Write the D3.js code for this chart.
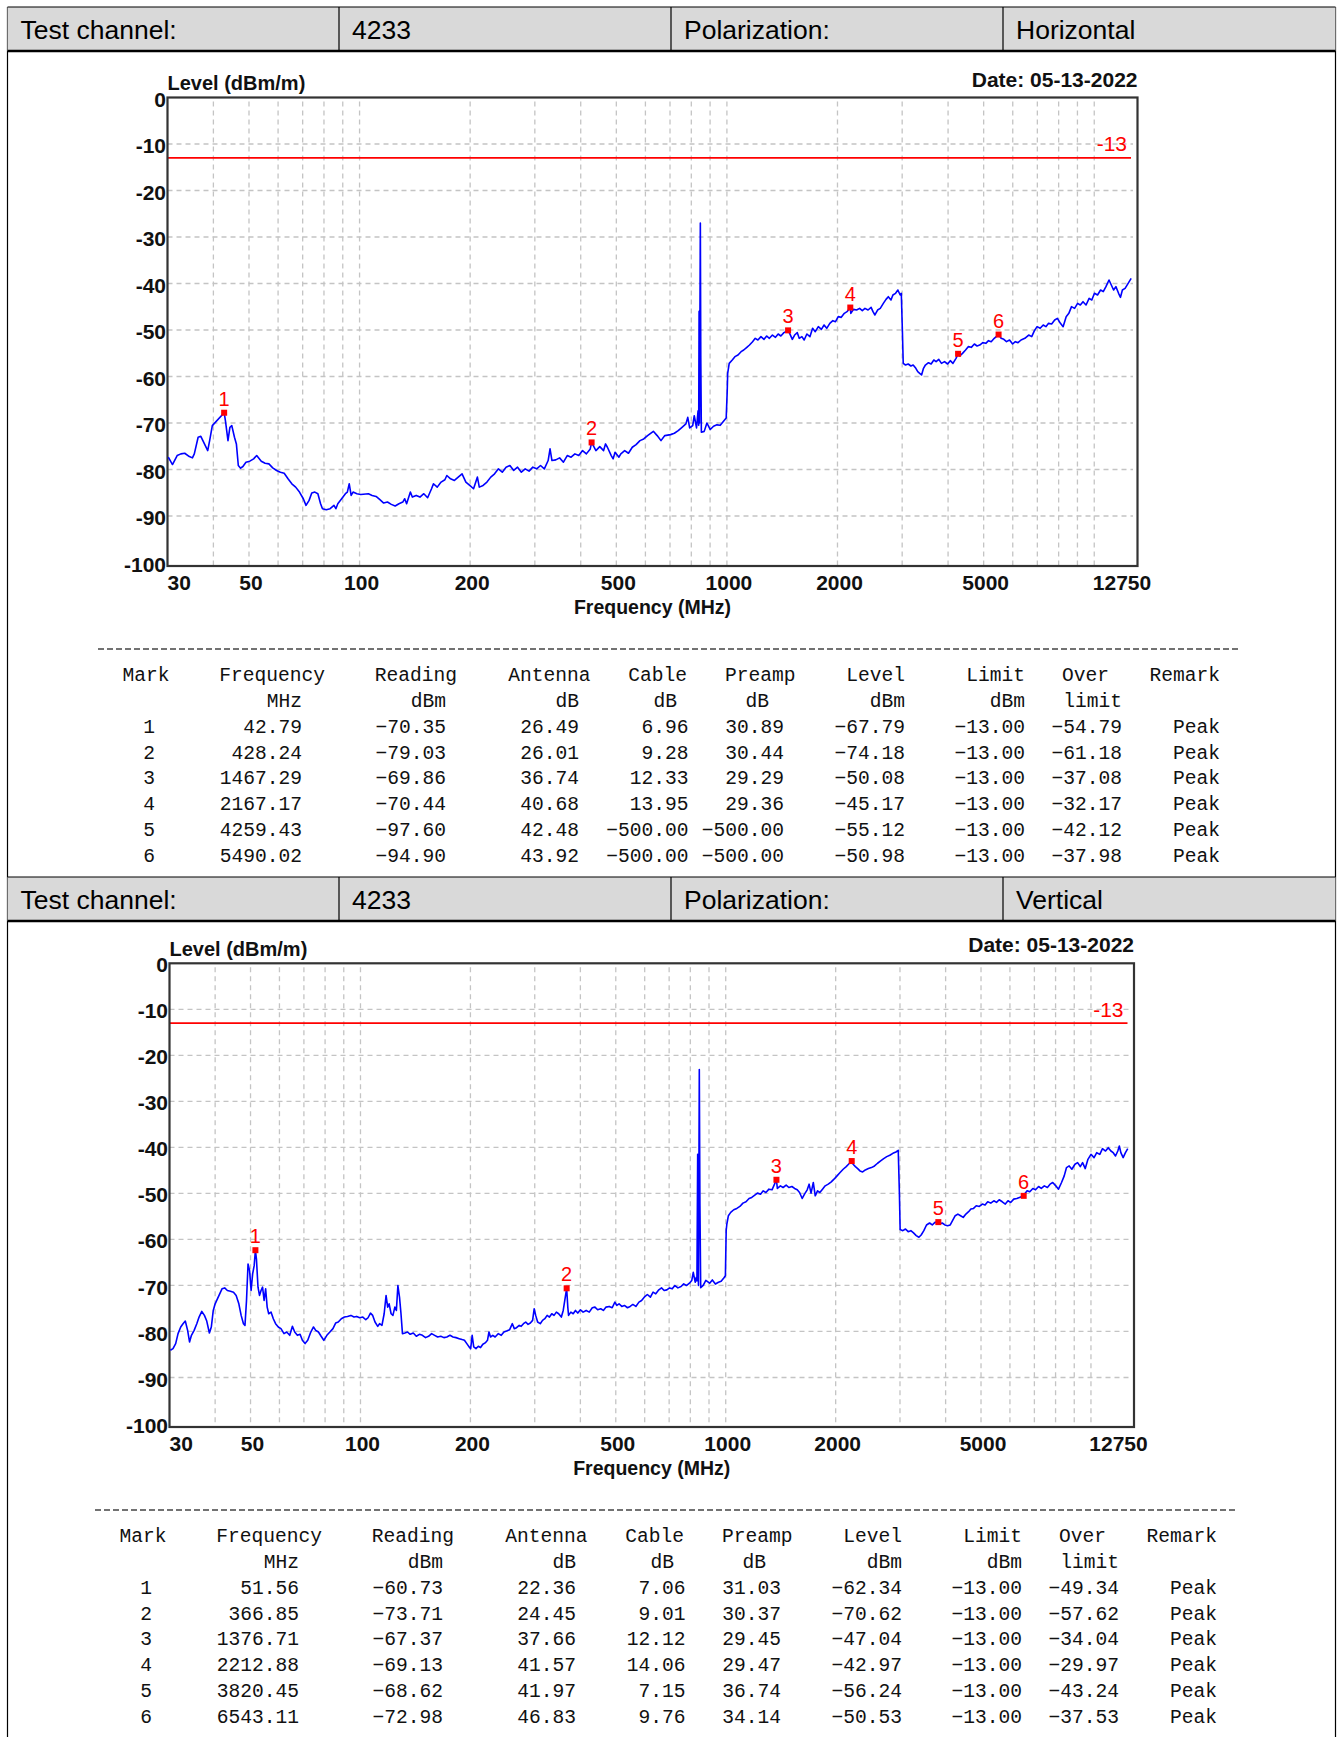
<!DOCTYPE html>
<html>
<head>
<meta charset="utf-8">
<script src="https://cdn.jsdelivr.net/npm/d3@7"></script>
<style>
  body { margin: 0; background: #fff; }
  svg text { font-family: "Liberation Sans", Arial, sans-serif; }
  svg text.mono { font-family: "Liberation Mono", "Courier New", monospace; }
</style>
</head>
<body>
<svg id="page" width="1340" height="1737"></svg>
<script>
// ---- data ----
const testChannel = "4233";
const testDate = "05-13-2022";
const polarizations = ["Horizontal", "Vertical"];
const freqTickValues = [30, 50, 100, 200, 500, 1000, 2000, 5000, 12750];
const freqGridValues = [40, 50, 60, 70, 80, 90, 100, 200, 300, 400, 500, 600, 700, 800, 900,
    1000, 2000, 3000, 4000, 5000, 6000, 7000, 8000, 9000, 10000];
const levelTickValues = [0, -10, -20, -30, -40, -50, -60, -70, -80, -90, -100];
const limitLevel = -13;

const tableHeader1 = ["Mark", "Frequency", "Reading", "Antenna", "Cable", "Preamp", "Level", "Limit", "Over", "Remark"];
const tableHeader2 = ["", "MHz", "dBm", "dB", "dB", "dB", "dBm", "dBm", "limit", ""];

// Horizontal polarization, marker table
const hMark = [1, 2, 3, 4, 5, 6];
const hFrequency = [42.79, 428.24, 1467.29, 2167.17, 4259.43, 5490.02];
const hReading = [-70.35, -79.03, -69.86, -70.44, -97.60, -94.90];
const hAntenna = [26.49, 26.01, 36.74, 40.68, 42.48, 43.92];
const hCable = [6.96, 9.28, 12.33, 13.95, -500.00, -500.00];
const hPreamp = [30.89, 30.44, 29.29, 29.36, -500.00, -500.00];
const hLevel = [-67.79, -74.18, -50.08, -45.17, -55.12, -50.98];
const hLimit = [-13.00, -13.00, -13.00, -13.00, -13.00, -13.00];
const hOver = [-54.79, -61.18, -37.08, -32.17, -42.12, -37.98];
const hRemark = ["Peak", "Peak", "Peak", "Peak", "Peak", "Peak"];

// Vertical polarization, marker table
const vMark = [1, 2, 3, 4, 5, 6];
const vFrequency = [51.56, 366.85, 1376.71, 2212.88, 3820.45, 6543.11];
const vReading = [-60.73, -73.71, -67.37, -69.13, -68.62, -72.98];
const vAntenna = [22.36, 24.45, 37.66, 41.57, 41.97, 46.83];
const vCable = [7.06, 9.01, 12.12, 14.06, 7.15, 9.76];
const vPreamp = [31.03, 30.37, 29.45, 29.47, 36.74, 34.14];
const vLevel = [-62.34, -70.62, -47.04, -42.97, -56.24, -50.53];
const vLimit = [-13.00, -13.00, -13.00, -13.00, -13.00, -13.00];
const vOver = [-49.34, -57.62, -34.04, -29.97, -43.24, -37.53];
const vRemark = ["Peak", "Peak", "Peak", "Peak", "Peak", "Peak"];

// Horizontal sweep: [MHz, dBm/m]
const hTrace = [
  [30.15,-77.36],[30.95,-78.93],[31.87,-77.0],[32.63,-76.64],[33.42,-76.5],[34.40,-77.21],[35.07,-77.5],
  [35.49,-76.64],[36.35,-73.07],[36.97,-72.86],[38.60,-75.93],[39.07,-73.79],[39.73,-70.57],[42.79,-67.79],
  [43.13,-69.5],[43.83,-73.79],[44.36,-70.93],[44.89,-70.57],[45.65,-73.07],[46.20,-74.5],[46.76,-79.14],
  [47.44,-79.71],[48.13,-79.36],[49.06,-78.43],[50.25,-78.21],[51.47,-77.71],[52.47,-77.0],[54.00,-78.21],
  [55.31,-78.64],[56.65,-78.79],[58.02,-79.64],[59.43,-80.21],[60.88,-80.57],[62.34,-80.79],[63.86,-82.0],
  [65.40,-83.07],[66.99,-83.79],[68.62,-84.86],[70.28,-86.29],[71.48,-87.71],[72.88,-86.64],[74.10,-85.07],
  [75.55,-84.86],[77.00,-85.21],[78.32,-87.36],[79.25,-88.43],[81.17,-88.64],[83.15,-88.43],[85.17,-87.71],
  [86.20,-88.43],[87.24,-87.36],[89.37,-86.29],[91.51,-85.21],[92.62,-84.86],[93.73,-83.07],[94.86,-85.57],
  [96.00,-84.86],[98.33,-85.21],[100.7,-85.36],[105.7,-85.21],[108.2,-85.57],[110.9,-85.79],[113.6,-86.5],
  [116.3,-87.21],[119.1,-87.0],[122.0,-87.5],[125.0,-87.86],[128.0,-87.36],[131.1,-87.0],[132.7,-86.29],
  [134.3,-87.36],[137.5,-84.86],[139.2,-85.93],[142.6,-85.57],[146.0,-85.93],[149.6,-85.21],[153.2,-86.07],
  [157.0,-84.14],[158.9,-83.07],[162.7,-83.79],[166.7,-82.71],[170.7,-82.21],[172.8,-81.29],[176.9,-82.0],
  [181.2,-82.36],[185.6,-81.64],[190.1,-80.93],[194.7,-82.71],[199.5,-83.43],[204.3,-84.14],[209.3,-81.64],
  [211.8,-83.79],[216.9,-83.43],[222.2,-82.71],[227.6,-81.64],[233.1,-80.93],[238.8,-79.86],[244.6,-80.57],
  [250.5,-79.5],[256.6,-79.14],[262.8,-80.21],[269.2,-79.5],[275.7,-80.57],[282.4,-79.86],[289.3,-80.36],
  [296.3,-79.5],[303.5,-79.86],[310.9,-79.14],[318.4,-79.86],[326.1,-78.07],[330.0,-75.57],[334.0,-78.07],
  [342.1,-77.93],[350.4,-77.5],[358.9,-78.43],[367.6,-77.0],[376.5,-77.36],[385.7,-76.64],[395.1,-77.0],
  [404.6,-75.93],[414.4,-76.64],[424.6,-75.57],[428.24,-74.18],[440.0,-75.93],[450.7,-75.07],[461.6,-75.93],
  [467.2,-74.5],[472.8,-75.21],[484.3,-77.0],[490.1,-77.71],[496.0,-76.29],[508.2,-77.36],[514.3,-76.64],
  [526.8,-75.93],[539.5,-76.5],[552.6,-75.21],[565.9,-74.64],[579.9,-73.79],[593.7,-73.43],[608.1,-72.71],
  [630.6,-71.79],[645.9,-72.71],[661.5,-73.79],[677.6,-72.71],[702.4,-72.5],[719.4,-72.21],[736.9,-71.64],
  [754.8,-70.93],[773.2,-70.21],[782.4,-68.79],[791.8,-71.07],[807.1,-70.57],[814.9,-68.43],[826.6,-71.07],
  [834.6,-67.36],[838,-70.5],[840,-46.0],[842,-70.0],[846.6,-27.0],[849,-56.0],[852,-72.0],
  [867.5,-71.8],[882.2,-70.0],[900.9,-71.4],[919.6,-70.7],[939.3,-70.4],[959,-70.5],[979,-69.6],
  [995.6,-68.9],[1002,-63.1],[1004.8,-59.32],[1014.5,-57.17],[1034.1,-56.45],[1051.6,-55.73],[1072.0,-55.38],
  [1092.8,-54.66],[1111.2,-54.30],[1133.0,-53.73],[1152.1,-53.23],[1174.5,-52.51],[1194.3,-51.79],[1214.5,-52.15],
  [1238.0,-51.43],[1261.9,-52.01],[1283.3,-51.29],[1305.0,-51.79],[1330.3,-51.08],[1356.0,-51.58],[1379.0,-50.86],
  [1402.3,-51.29],[1429.5,-50.57],[1467.29,-50.08],[1481.8,-50.72],[1507.0,-52.01],[1528.8,-51.08],[1554.7,-50.57],
  [1573.4,-51.79],[1600.0,-51.43],[1623.2,-52.15],[1650.7,-50.86],[1682.6,-51.43],[1711.1,-49.64],[1740.0,-50.36],
  [1773.7,-49.28],[1808.0,-49.86],[1838.6,-48.92],[1869.7,-49.64],[1906.0,-48.57],[1942.8,-47.99],[1975.7,-48.21],
  [2009.1,-47.13],[2048.0,-47.28],[2087.6,-46.42],[2123.0,-46.06],[2167.17,-45.17],[2174.5,-46.42],[2211.3,-45.56],
  [2254.1,-45.70],[2297.7,-45.34],[2336.6,-45.84],[2376.1,-45.34],[2422.1,-45.70],[2469.0,-45.13],[2498.8,-46.06],
  [2528.9,-46.77],[2571.7,-45.70],[2615.2,-45.34],[2665.9,-44.27],[2711.0,-43.41],[2750.3,-42.83],[2796.8,-43.55],
  [2830.6,-42.47],[2878.4,-42.11],[2920.1,-41.40],[2962.5,-42.47],[2983.8,-42.11],[3005.3,-50.72],[3019.8,-57.17],
  [3063.5,-57.53],[3115.4,-57.31],[3168.1,-57.74],[3214.0,-57.53],[3268.4,-58.24],[3307.9,-58.96],[3347.7,-59.32],
  [3388.1,-59.68],[3428.9,-58.24],[3470.3,-57.53],[3537.5,-57.03],[3597.3,-57.31],[3658.2,-56.45],[3711.2,-56.81],
  [3774.0,-56.31],[3838.0,-57.17],[3912.3,-56.81],[3988.0,-57.31],[4055.5,-56.59],[4124.2,-57.17],[4204.1,-56.09],
  [4259.43,-55.12],[4306.1,-55.59],[4379.0,-55.02],[4463.8,-54.30],[4539.4,-53.58],[4627.3,-53.73],[4716.9,-53.01],
  [4796.7,-53.44],[4878.0,-53.23],[4972.4,-52.72],[5068.5,-52.87],[5154.3,-52.29],[5241.6,-52.51],[5343.2,-51.79],
  [5490.02,-50.98],[5579.0,-51.79],[5673.5,-52.01],[5769.5,-52.51],[5881.2,-52.15],[5995.1,-53.01],[6096.6,-52.51],
  [6199.9,-52.72],[6319.9,-52.15],[6473.2,-51.79],[6630.2,-51.08],[6758.6,-51.43],[6873.0,-50.14],[6989.3,-49.28],
  [7124.7,-49.64],[7262.7,-48.92],[7385.6,-49.28],[7510.7,-48.57],[7656.2,-48.71],[7804.4,-47.85],[7936.4,-47.49],
  [8090.1,-48.57],[8227.0,-49.28],[8386.3,-47.13],[8528.3,-46.42],[8672.6,-44.98],[8840.6,-45.34],[9011.9,-44.27],
  [9164.4,-44.62],[9319.6,-43.91],[9499.9,-44.62],[9683.9,-43.19],[9847.9,-43.55],[10014,-42.11],[10208,-42.47],
  [10406,-41.40],[10582,-41.76],[10761,-40.68],[10970,-39.25],[11129,-40.32],[11290,-41.40],[11454,-40.68],
  [11648,-42.11],[11788,-42.97],[11930,-41.40],[12132,-41.04],[12367,-39.96],[12606,-38.89]
];

// Vertical sweep: [MHz, dBm/m]
const vTrace = [
  [30.16,-84.08],[30.67,-83.72],[31.19,-82.64],[31.66,-80.48],[32.20,-79.03],[32.67,-78.31],[33.14,-77.74],
  [33.63,-79.76],[34.04,-82.28],[34.45,-80.84],[35.04,-79.76],[35.63,-78.31],[36.15,-76.87],[36.77,-75.65],
  [37.39,-76.51],[37.94,-77.74],[38.58,-80.33],[39.05,-79.03],[39.53,-75.43],[40.00,-73.99],[40.58,-72.91],
  [41.17,-71.82],[41.77,-70.74],[42.48,-70.53],[43.21,-71.10],[44.05,-71.25],[44.91,-71.46],[45.67,-72.18],
  [46.45,-73.99],[47.13,-76.51],[47.82,-78.31],[48.28,-78.67],[48.75,-73.27],[49.22,-65.34],[49.70,-66.78],
  [50.18,-71.10],[50.67,-67.50],[51.16,-65.70],[51.56,-62.34],[51.90,-64.25],[52.41,-70.38],[52.91,-72.18],
  [53.43,-71.10],[53.94,-70.38],[54.47,-73.27],[55.00,-70.74],[55.53,-74.71],[56.07,-76.15],[56.89,-75.79],
  [57.72,-77.23],[58.56,-78.31],[59.56,-79.03],[60.57,-79.39],[61.75,-80.48],[62.80,-80.12],[64.02,-80.84],
  [65.11,-78.89],[66.06,-80.12],[67.18,-80.84],[68.33,-80.62],[69.33,-81.92],[70.51,-82.64],[71.71,-81.92],
  [73.11,-80.12],[74.36,-79.03],[75.44,-79.76],[76.72,-80.12],[78.03,-81.05],[79.36,-81.92],[80.91,-80.84],
  [82.46,-80.12],[84.07,-79.39],[85.50,-78.17],[86.94,-77.95],[88.63,-77.23],[90.38,-76.87],[92.13,-76.73],
  [94.15,-76.51],[95.98,-76.87],[97.62,-76.73],[99.52,-77.02],[101.5,-76.87],[103.4,-77.45],[104.9,-77.02],
  [106.5,-76.01],[108.0,-76.51],[109.6,-77.95],[111.5,-78.89],[112.8,-78.31],[114.5,-78.67],[116.1,-76.15],
  [117.5,-72.18],[118.7,-74.71],[119.8,-73.99],[121.3,-76.15],[122.7,-76.51],[124.2,-74.71],[125.4,-75.43],
  [126.6,-70.02],[127.9,-72.55],[129.1,-76.15],[130.3,-80.48],[132.3,-80.33],[134.5,-80.12],[136.8,-80.62],
  [139.5,-80.33],[142.2,-81.05],[145.0,-80.62],[147.8,-80.84],[150.7,-81.34],[153.6,-81.05],[156.6,-80.48],
  [159.6,-80.84],[162.7,-81.20],[165.9,-81.05],[169.2,-81.34],[172.4,-81.20],[175.8,-80.84],[179.2,-81.20],
  [182.7,-81.34],[186.3,-81.56],[189.8,-81.77],[192.6,-81.92],[195.5,-82.64],[198.3,-83.36],[200.3,-83.72],
  [202.2,-80.84],[204.2,-83.36],[207.1,-83.72],[210.2,-83.22],[213.2,-83.50],[216.3,-82.78],[219.5,-82.49],
  [222.7,-81.92],[224.8,-80.12],[227.0,-81.20],[230.3,-80.84],[233.7,-81.20],[238.2,-80.48],[242.9,-80.84],
  [247.0,-80.12],[251.2,-79.90],[256.1,-79.61],[260.5,-78.31],[263.7,-79.39],[267.5,-79.18],[272.0,-78.67],
  [275.4,-78.89],[279.4,-78.31],[283.4,-77.95],[287.6,-78.46],[291.8,-78.17],[296.0,-77.59],[298.9,-75.07],
  [301.8,-76.51],[305.5,-77.95],[310.6,-78.31],[315.1,-77.59],[319.7,-77.23],[324.4,-76.51],[329.1,-76.87],
  [334.0,-76.15],[338.8,-76.51],[343.8,-75.79],[348.8,-76.15],[354.8,-76.87],[359.0,-75.43],[366.85,-70.62],
  [369.5,-74.71],[371.3,-76.51],[376.7,-75.79],[382.2,-76.15],[387.8,-75.43],[393.5,-76.01],[400.2,-75.29],
  [407.0,-75.79],[414.9,-75.43],[423.0,-75.79],[431.2,-74.85],[438.5,-74.71],[446.0,-75.29],[454.7,-75.07],
  [462.4,-75.43],[470.3,-74.71],[479.5,-74.56],[488.8,-74.85],[497.2,-73.63],[503.2,-74.35],[510.5,-73.99],
  [519.2,-74.56],[528.0,-74.35],[538.3,-74.85],[547.5,-74.56],[556.8,-74.13],[567.5,-74.56],[578.6,-73.63],
  [588.4,-73.27],[598.4,-72.55],[610.1,-71.97],[622.0,-72.55],[632.6,-71.46],[643.4,-71.82],[655.9,-70.96],
  [667.1,-70.53],[678.4,-71.10],[690.0,-70.96],[701.7,-70.53],[713.7,-70.74],[725.8,-70.02],[740.0,-70.53],
  [754.4,-70.24],[767.3,-69.66],[780.3,-70.02],[795.5,-69.52],[807.1,-68.94],[815.0,-67.14],[824.9,-69.30],
  [830.9,-68.22],[834,-69.0],[838,-41.5],[842,-70.0],[846.6,-23.1],[850,-52.7],[854,-70.5],
  [867.6,-70.0],[882.2,-68.9],[903.7,-69.5],[919.0,-68.8],[937.0,-69.7],[955.2,-69.3],[971.5,-69.1],
  [988.0,-68.4],[998,-67.9],[1003,-58.0],[1007.3,-56.65],[1017.0,-54.85],[1031.8,-54.13],[1051.9,-53.55],
  [1072.4,-53.26],[1093.3,-52.83],[1114.6,-52.11],[1136.4,-51.82],[1158.5,-51.10],[1178.3,-50.88],[1201.2,-50.38],
  [1221.7,-49.94],[1245.5,-50.16],[1266.7,-49.44],[1288.2,-49.80],[1313.3,-49.08],[1338.9,-49.22],[1376.71,-47.04],
  [1384.8,-48.93],[1411.8,-48.36],[1435.8,-48.72],[1463.8,-48.21],[1488.7,-48.72],[1517.7,-48.50],[1543.6,-48.93],
  [1569.8,-49.22],[1592.7,-49.80],[1619.8,-51.10],[1643.4,-50.16],[1671.4,-49.22],[1691.7,-47.99],[1712.2,-49.94],
  [1737.2,-47.64],[1758.2,-50.52],[1783.9,-49.44],[1809.9,-49.80],[1840.7,-49.08],[1872.0,-48.36],[1908.5,-47.99],
  [1945.6,-47.49],[1978.7,-46.91],[2017.3,-46.19],[2056.6,-45.47],[2096.6,-44.75],[2137.5,-44.17],[2168.6,-43.67],
  [2212.88,-42.97],[2232.3,-43.67],[2264.9,-44.17],[2297.8,-44.61],[2331.2,-45.11],[2370.9,-45.33],[2411.3,-44.90],
  [2458.3,-44.61],[2506.2,-44.39],[2555.0,-44.03],[2604.8,-43.45],[2655.5,-42.95],[2707.2,-42.44],[2760.0,-42.01],
  [2813.8,-41.72],[2868.5,-41.29],[2924.4,-41.00],[2967.1,-40.64],[2988.6,-49.80],[3003.0,-57.87],[3054.2,-58.09],
  [3106.1,-57.73],[3159.1,-58.31],[3212.9,-58.09],[3267.2,-58.59],[3323.1,-59.17],[3379.9,-59.53],[3428.4,-59.03],
  [3486.7,-58.09],[3546.1,-56.86],[3615.2,-56.43],[3676.8,-56.86],[3739.4,-56.29],[3820.45,-56.24],[3849.2,-56.65],
  [3914.7,-56.43],[3981.3,-56.86],[4049.1,-57.01],[4118.0,-56.86],[4178.0,-55.93],[4249.2,-54.85],[4321.5,-54.49],
  [4395.1,-54.85],[4469.9,-55.21],[4546.0,-54.49],[4623.4,-53.98],[4690.7,-53.40],[4770.6,-53.26],[4851.8,-52.68],
  [4946.3,-52.83],[5042.6,-52.32],[5128.5,-52.54],[5215.8,-51.82],[5317.4,-52.11],[5421.0,-51.60],[5513.3,-51.96],
  [5607.1,-51.38],[5716.4,-51.82],[5827.8,-52.32],[5927.0,-51.60],[6028.0,-51.96],[6145.2,-51.24],[6264.9,-51.10],
  [6371.6,-50.88],[6543.11,-50.53],[6574.5,-50.16],[6686.3,-49.44],[6800.1,-49.66],[6932.6,-48.93],[7050.7,-49.22],
  [7188.0,-48.50],[7310.4,-48.93],[7452.8,-48.36],[7598.0,-48.72],[7727.3,-47.99],[7858.9,-47.64],[8011.9,-48.36],
  [8148.2,-49.08],[8307.0,-47.64],[8448.4,-46.19],[8571.6,-44.39],[8717.5,-44.03],[8865.9,-44.75],[9038.6,-43.67],
  [9192.5,-43.31],[9349.0,-44.17],[9485.2,-43.31],[9646.8,-44.61],[9811.0,-42.59],[10002,-41.51],[10197,-42.23],
  [10371,-41.15],[10573,-41.51],[10753,-40.28],[10963,-40.79],[11150,-40.07],[11340,-40.79],[11505,-41.15],
  [11673,-41.87],[11843,-40.79],[11958,-39.70],[12074,-41.15],[12250,-42.23],[12429,-41.15],[12610,-40.28]
];

// ---- layout ----
const svg = d3.select("#page");
const tableLeft = 7.5, tableRight = 1335.5;
const cellEdges = [7.5, 339, 671, 1003, 1335.5];

// right edges of the text columns in the marker tables
const colHead1 = [169.5, 325, 457, 590.5, 687, 795.5, 905, 1025, 1109, 1220];
const colHead2 = [0, 302, 446, 579, 677, 769, 905, 1025, 1122, 0];
const colValue = [155, 302, 446, 579, 688.5, 784, 905, 1025, 1122, 1220];

const fmt = d3.format(".2f");

function drawHeaderRow(y, h, polarization) {
    const g = svg.append("g").attr("class", "header-row");
    const texts = ["Test channel:", testChannel, "Polarization:", polarization];
    g.append("rect")
        .attr("x", tableLeft).attr("y", y)
        .attr("width", tableRight - tableLeft).attr("height", h)
        .attr("fill", "#d9d9d9");
    for (let i = 0; i < 4; i++) {
        g.append("text")
            .attr("x", cellEdges[i] + 13)
            .attr("y", y + h / 2)
            .attr("dy", "0.36em")
            .attr("font-size", "26.5px")
            .attr("fill", "#000")
            .text(texts[i]);
    }
    // cell dividers
    cellEdges.slice(1, 4).forEach(x => {
        g.append("line").attr("x1", x).attr("x2", x).attr("y1", y).attr("y2", y + h)
            .attr("stroke", "#000").attr("stroke-width", 1.2);
    });
    g.append("line").attr("x1", tableLeft).attr("x2", tableRight).attr("y1", y).attr("y2", y)
        .attr("stroke", "#000").attr("stroke-width", 1.2);
    g.append("line").attr("x1", tableLeft).attr("x2", tableRight).attr("y1", y + h).attr("y2", y + h)
        .attr("stroke", "#000").attr("stroke-width", 2.5);
}

function drawChart(cfg, trace, markFreq, markLevel) {
    const g = svg.append("g").attr("class", "chart");
    const x = d3.scaleLog().domain([30, 12750]).range([cfg.x0, cfg.x1]);
    const y = d3.scaleLinear().domain([-100, 0]).range([cfg.y100, cfg.y0]);
    const frameRight = cfg.x1 + 4.5;
    const frameBottom = cfg.y100 + 3.5;

    // grid
    g.selectAll(".hgrid")
        .data(levelTickValues.filter(v => v < 0 && v > -100))
        .enter().append("line")
        .attr("x1", cfg.x0).attr("x2", x(12750))
        .attr("y1", d => y(d)).attr("y2", d => y(d))
        .attr("stroke", "#c4c4c4").attr("stroke-width", 1.3)
        .attr("stroke-dasharray", "5,4");
    g.selectAll(".vgrid")
        .data(freqGridValues)
        .enter().append("line")
        .attr("x1", d => x(d)).attr("x2", d => x(d))
        .attr("y1", cfg.y0 + 4).attr("y2", frameBottom)
        .attr("stroke", "#c4c4c4").attr("stroke-width", 1.3)
        .attr("stroke-dasharray", "5,4");

    // limit line
    g.append("line")
        .attr("x1", cfg.x0).attr("x2", x(12750) - 2)
        .attr("y1", y(limitLevel)).attr("y2", y(limitLevel))
        .attr("stroke", "#ff0000").attr("stroke-width", 1.8);
    g.append("text")
        .attr("x", x(12750) - 6).attr("y", y(limitLevel) - 6.5)
        .attr("text-anchor", "end").attr("font-size", "21px").attr("fill", "#ff0000")
        .text(limitLevel);

    // frame
    g.append("rect")
        .attr("x", cfg.x0).attr("y", cfg.y0)
        .attr("width", frameRight - cfg.x0).attr("height", frameBottom - cfg.y0)
        .attr("fill", "none").attr("stroke", "#333").attr("stroke-width", 2.2);

    // trace
    const line = d3.line().x(d => x(d[0])).y(d => y(d[1]));
    g.append("path")
        .datum(trace)
        .attr("d", line)
        .attr("fill", "none").attr("stroke", "#0000ff").attr("stroke-width", 1.6)
        .attr("stroke-linejoin", "round");

    // markers
    markFreq.forEach((f, i) => {
        g.append("rect")
            .attr("x", x(f) - 3).attr("y", y(markLevel[i]) - 3)
            .attr("width", 6).attr("height", 6).attr("fill", "#ff0000");
        g.append("text")
            .attr("x", x(f)).attr("y", y(markLevel[i]) - 7)
            .attr("text-anchor", "middle").attr("font-size", "20px").attr("fill", "#ff0000")
            .text(i + 1);
    });

    // y tick labels
    g.selectAll(".ylab")
        .data(levelTickValues)
        .enter().append("text")
        .attr("x", cfg.x0 - 1.5)
        .attr("y", d => y(d) + 1.5)
        .attr("dy", "0.36em")
        .attr("text-anchor", "end")
        .attr("font-size", "21px").attr("font-weight", "bold").attr("fill", "#111")
        .text(d => d);

    // x tick labels
    g.selectAll(".xlab")
        .data(freqTickValues)
        .enter().append("text")
        .attr("x", (d, i) => i === 0 ? cfg.x0 : x(d) + (i === freqTickValues.length - 1 ? -11 : 2))
        .attr("y", frameBottom + 24)
        .attr("text-anchor", (d, i) => i === 0 ? "start" : "middle")
        .attr("font-size", "21px").attr("font-weight", "bold").attr("fill", "#111")
        .text(d => d);

    // axis titles
    g.append("text")
        .attr("x", cfg.x0).attr("y", cfg.y0 - 7.5)
        .attr("font-size", "20px").attr("font-weight", "bold").attr("fill", "#111")
        .text("Level (dBm/m)");
    g.append("text")
        .attr("x", frameRight).attr("y", cfg.y0 - 11)
        .attr("text-anchor", "end")
        .attr("font-size", "21px").attr("font-weight", "bold").attr("fill", "#111")
        .text("Date: " + testDate);
    g.append("text")
        .attr("x", (cfg.x0 + frameRight) / 2).attr("y", frameBottom + 48)
        .attr("text-anchor", "middle")
        .attr("font-size", "19.5px").attr("font-weight", "bold").attr("fill", "#111")
        .text("Frequency (MHz)");
}

function drawTable(top, dx, columns) {
    const g = svg.append("g").attr("class", "marker-table");
    g.append("line")
        .attr("x1", 98 + dx).attr("x2", 1239 + dx).attr("y1", top).attr("y2", top)
        .attr("stroke", "#444").attr("stroke-width", 1.4).attr("stroke-dasharray", "6,3");
    const textAt = (x, yy, s) => g.append("text")
        .attr("class", "mono")
        .attr("x", x + dx).attr("y", yy)
        .attr("text-anchor", "end")
        .attr("font-size", "19.6px").attr("fill", "#111")
        .text(s);
    tableHeader1.forEach((s, i) => textAt(colHead1[i], top + 31.7, s));
    tableHeader2.forEach((s, i) => { if (s) textAt(colHead2[i], top + 57.7, s); });
    columns.forEach((col, c) => {
        col.forEach((v, r) => {
            const s = typeof v === "number" && c > 0 ? fmt(v) : String(v);
            textAt(colValue[c], top + 83.7 + r * 25.8, s);
        });
    });
}

// outer table frame
svg.append("line").attr("x1", tableLeft).attr("x2", tableLeft).attr("y1", 7).attr("y2", 1737)
    .attr("stroke", "#000").attr("stroke-width", 1.2);
svg.append("line").attr("x1", tableRight).attr("x2", tableRight).attr("y1", 7).attr("y2", 1737)
    .attr("stroke", "#000").attr("stroke-width", 1.2);

drawHeaderRow(7, 44, polarizations[0]);
drawChart({ x0: 167.5, x1: 1133, y0: 97.5, y100: 562.5 }, hTrace, hFrequency, hLevel);
drawTable(649, 0, [hMark, hFrequency, hReading, hAntenna, hCable, hPreamp, hLevel, hLimit, hOver, hRemark]);

drawHeaderRow(877, 44, polarizations[1]);
drawChart({ x0: 169.5, x1: 1129.5, y0: 963.3, y100: 1423.5 }, vTrace, vFrequency, vLevel);
drawTable(1510, -3, [vMark, vFrequency, vReading, vAntenna, vCable, vPreamp, vLevel, vLimit, vOver, vRemark]);
</script>
</body>
</html>
